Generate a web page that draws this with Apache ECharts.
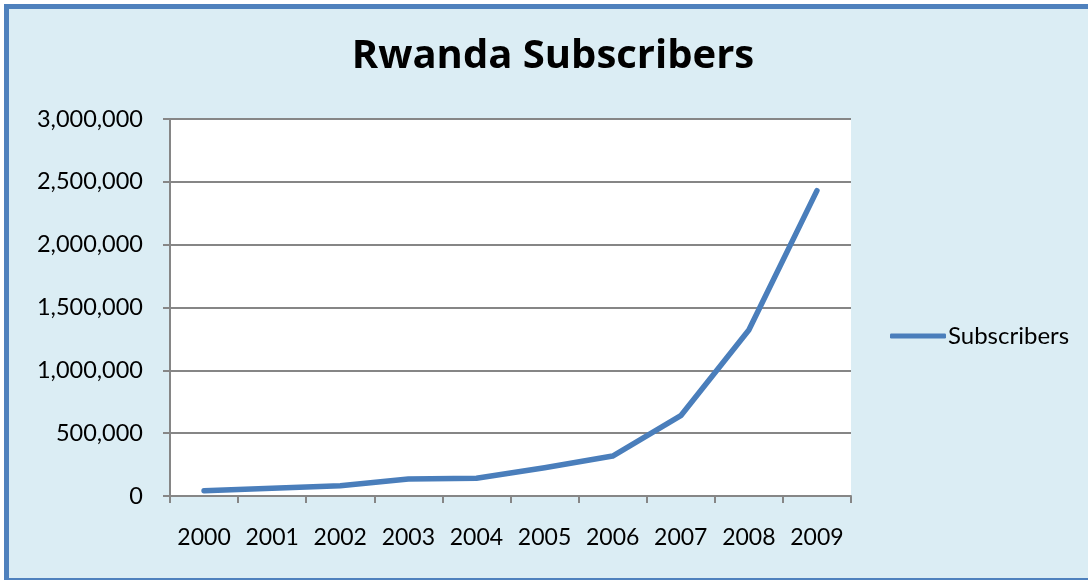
<!DOCTYPE html>
<html>
<head>
<meta charset="utf-8">
<script src="https://cdn.jsdelivr.net/npm/echarts@6/dist/echarts.min.js"></script>
<style>
  html, body { margin: 0; padding: 0; background: #ffffff; }
  .frame {
    position: absolute; left: 4px; top: 4px; width: 1084px; height: 569px;
    background: #dbedf4;
    border-left: 5px solid #4f81bd; border-top: 5px solid #4f81bd; border-bottom: 2px solid #4f81bd;
  }
  #chart { position: absolute; left: 0; top: 0; width: 1088px; height: 582px; }
</style>
</head>
<body>
<div class="frame"></div>
<div id="chart"></div>
<script>
// 数据
const years = ['2000', '2001', '2002', '2003', '2004', '2005', '2006', '2007', '2008', '2009']
const subscribers = [42000, 61000, 82000, 135000, 141000, 225000, 318000, 639000, 1321000, 2430000]

const chart = echarts.init(document.getElementById('chart'))

const font = 'Lato, "Open Sans", sans-serif'

const option = {
  backgroundColor: 'transparent',
  textStyle: { fontFamily: font },
  title: {
    text: 'Rwanda Subscribers',
    left: 548,
    textAlign: 'center',
    top: 32,
    textStyle: { fontSize: 40, fontWeight: 'bold', color: '#000', fontFamily: '"Open Sans", sans-serif' }
  },
  legend: {
    data: ['Subscribers'],
    left: 890,
    top: 324,
    padding: 0,
    itemWidth: 56,
    itemHeight: 5,
    itemGap: 0,
    icon: 'roundRect',
    textStyle: { fontSize: 24, color: '#000', padding: [0, 0, 0, -3] }
  },
  grid: {
    left: 170,
    right: 237,
    top: 119,
    bottom: 86,
    show: true,
    backgroundColor: '#ffffff',
    borderWidth: 0
  },
  xAxis: {
    type: 'category',
    data: years,
    boundaryGap: true,
    axisLine: { lineStyle: { color: '#868686', width: 2 } },
    axisTick: { show: true, interval: 0, length: 7, lineStyle: { color: '#868686', width: 2 } },
    axisLabel: { interval: 0, hideOverlap: false, fontSize: 23, color: '#000', margin: 30 }
  },
  yAxis: {
    type: 'value',
    min: 0,
    max: 3000000,
    interval: 500000,
    axisLine: { show: true, lineStyle: { color: '#868686', width: 2 } },
    axisTick: { show: true, length: 7, lineStyle: { color: '#868686', width: 2 } },
    splitLine: { lineStyle: { color: '#868686', width: 2 } },
    axisLabel: {
      fontSize: 23.5,
      color: '#000',
      margin: 27,
      formatter: v => v.toLocaleString('en-US')
    }
  },
  series: [
    {
      name: 'Subscribers',
      type: 'line',
      data: subscribers,
      symbol: 'none',
      smooth: false,
      itemStyle: { color: '#4a7ebb' },
      lineStyle: { color: '#4a7ebb', width: 5.5, cap: 'round', join: 'round' }
    }
  ]
}

chart.setOption(option)
</script>
</body>
</html>
